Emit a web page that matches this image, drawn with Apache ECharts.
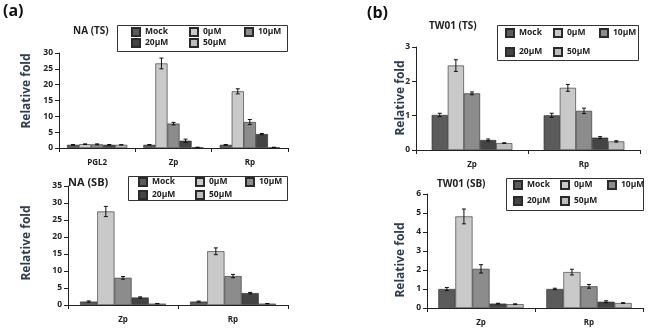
<!DOCTYPE html>
<html>
<head>
<meta charset="utf-8">
<script src="https://cdn.jsdelivr.net/npm/echarts@6/dist/echarts.min.js"></script>
<style>
  html, body { margin: 0; padding: 0; background: #fff; }
  #main { width: 650px; height: 332px; }
</style>
</head>
<body>
<div id="main"></div>
<script>
// 处理组名称
var doseNames = ['Mock', '0μM', '10μM', '20μM', '50μM'];

// (a) NA (TS)
var naTsCats = ['PGL2', 'Zp', 'Rp'];
var naTsMean = [[1.0, 1.0, 1.0], [1.2, 26.7, 17.9], [1.15, 7.7, 8.2], [1.0, 2.3, 4.4], [1.0, 0.2, 0.2]];
var naTsErr  = [[0.1, 0.1, 0.1], [0.1, 1.7, 0.8], [0.15, 0.4, 0.8], [0.1, 0.5, 0.2], [0.05, 0.05, 0.05]];
var naTsTicks = [0, 30, 5];

// (a) NA (SB)
var naSbCats = ['Zp', 'Rp'];
var naSbMean = [[1.0, 1.0], [27.5, 15.8], [8.0, 8.5], [2.2, 3.5], [0.4, 0.4]];
var naSbErr  = [[0.2, 0.15], [1.5, 1.0], [0.4, 0.5], [0.2, 0.2], [0.05, 0.05]];
var naSbTicks = [0, 35, 5];

// (b) TW01 (TS)
var twTsCats = ['Zp', 'Rp'];
var twTsMean = [[1.02, 1.01], [2.46, 1.81], [1.65, 1.14], [0.29, 0.36], [0.2, 0.25]];
var twTsErr  = [[0.05, 0.06], [0.17, 0.1], [0.04, 0.08], [0.03, 0.03], [0.01, 0.02]];
var twTsTicks = [0, 3, 1];

// (b) TW01 (SB)
var twSbCats = ['Zp', 'Rp'];
var twSbMean = [[1.0, 1.0], [4.82, 1.89], [2.06, 1.14], [0.23, 0.33], [0.2, 0.26]];
var twSbErr  = [[0.08, 0.04], [0.39, 0.15], [0.22, 0.1], [0.02, 0.05], [0.02, 0.02]];
var twSbTicks = [0, 6, 1];

// 样式
var barColors = ['#5b5b5b', '#c9c9c9', '#8c8c8c', '#444444', '#bdbdbd'];
var fontFam = 'Open Sans, Liberation Sans, sans-serif';

var panels = [
  {cats: naTsCats, mean: naTsMean, err: naTsErr, ticks: naTsTicks, gap: 0.21,
   grid: {left: 59, top: 53, width: 229, height: 95},
   title: 'NA (TS)', titlePos: [73, 26], titleSize: 10,
   yname: [27, 91],
   leg: {x: [131, 189, 244], y: [27, 38]}, box: [117, 25, 170, 26]},
  {cats: naSbCats, mean: naSbMean, err: naSbErr, ticks: naSbTicks, gap: 0.22,
   grid: {left: 68, top: 186, width: 220, height: 119},
   title: 'NA (SB)', titlePos: [68, 177], titleSize: 11,
   yname: [27, 243],
   leg: {x: [138, 195, 245], y: [177, 190]}, box: [128, 176, 159, 24]},
  {cats: twTsCats, mean: twTsMean, err: twTsErr, ticks: twTsTicks, gap: 0.28,
   grid: {left: 416, top: 47, width: 224, height: 103},
   title: 'TW01 (TS)', titlePos: [429, 21], titleSize: 10,
   yname: [401, 98],
   leg: {x: [505, 553, 599], y: [28, 47]}, box: [497, 25, 141, 35]},
  {cats: twSbCats, mean: twSbMean, err: twSbErr, ticks: twSbTicks, gap: 0.21,
   grid: {left: 427, top: 194, width: 216, height: 114},
   title: 'TW01 (SB)', titlePos: [437, 179], titleSize: 10,
   yname: [401, 260],
   leg: {x: [513, 560, 607], y: [180, 196]}, box: [506, 178, 137, 32]}
];

var grids = [], xAxes = [], yAxes = [], series = [], legends = [], graphics = [];

// 画板标记 (a) (b)
graphics.push({type: 'text', left: 3, top: 3, z: 10,
  style: {text: '(a)', font: 'bold 16px ' + fontFam, fill: '#111'}});
graphics.push({type: 'text', left: 367, top: 5, z: 10,
  style: {text: '(b)', font: 'bold 16px ' + fontFam, fill: '#111'}});

panels.forEach(function (p, pi) {
  grids.push(p.grid);
  xAxes.push({
    type: 'category', gridIndex: pi, data: p.cats,
    axisLine: {lineStyle: {color: '#222', width: 1}},
    axisTick: {show: true, length: 4, lineStyle: {color: '#222'}},
    axisLabel: {color: '#222', fontWeight: 'bold', fontSize: 8, fontFamily: fontFam, margin: 11}
  });
  yAxes.push({
    type: 'value', gridIndex: pi, min: p.ticks[0], max: p.ticks[1], interval: p.ticks[2],
    splitLine: {show: false},
    axisLine: {show: true, lineStyle: {color: '#222', width: 1}},
    axisTick: {show: true, length: 4, lineStyle: {color: '#222'}},
    axisLabel: {color: '#222', fontWeight: 'bold', fontSize: 8.5, fontFamily: fontFam, margin: 6}
  });

  // 柱子
  doseNames.forEach(function (nm, si) {
    series.push({
      name: nm, type: 'bar', xAxisIndex: pi, yAxisIndex: pi,
      data: p.mean[si], barGap: '0%', barCategoryGap: (p.gap * 100) + '%',
      itemStyle: {color: barColors[si], borderColor: '#2a2a2a', borderWidth: 0.6},
      animation: false
    });
  });

  // 误差线
  var errData = [];
  doseNames.forEach(function (nm, si) {
    p.cats.forEach(function (c, ci) {
      errData.push([ci, p.mean[si][ci], p.err[si][ci], si]);
    });
  });
  series.push({
    type: 'custom', xAxisIndex: pi, yAxisIndex: pi, data: errData,
    encode: {x: 0, y: 1}, z: 5, silent: true, animation: false,
    renderItem: (function (gap) {
      return function (params, api) {
        var ci = api.value(0), m = api.value(1), e = api.value(2), si = api.value(3);
        var band = api.size([1, 0])[0];
        var total = band * (1 - gap);
        var bw = total / 5;
        var c0 = api.coord([ci, m]);
        var x = c0[0] - total / 2 + bw * (si + 0.5);
        var yHi = api.coord([ci, m + e])[1];
        var yLo = api.coord([ci, Math.max(m - e, 0)])[1];
        var cap = 2;
        var st = {stroke: '#111', lineWidth: 1};
        return {
          type: 'group',
          children: [
            {type: 'line', shape: {x1: x, y1: yHi, x2: x, y2: yLo}, style: st},
            {type: 'line', shape: {x1: x - cap, y1: yHi, x2: x + cap, y2: yHi}, style: st},
            {type: 'line', shape: {x1: x - cap, y1: yLo, x2: x + cap, y2: yLo}, style: st}
          ]
        };
      };
    })(p.gap)
  });

  // 图例，每项一个，排成两行三列
  doseNames.forEach(function (nm, si) {
    var col = si < 3 ? si : si - 3;
    var row = si < 3 ? 0 : 1;
    legends.push({
      left: p.leg.x[col], top: p.leg.y[row], data: [nm],
      orient: 'horizontal', padding: 0, itemWidth: 8, itemHeight: 8,
      icon: 'rect', selectedMode: false, itemGap: 0, itemTextGap: 3,
      textStyle: {fontSize: 8.5, fontWeight: 'bold', color: '#222', fontFamily: fontFam}
    });
  });
  graphics.push({type: 'rect', z: 1,
    shape: {x: p.box[0] + 0.5, y: p.box[1] + 0.5, width: p.box[2], height: p.box[3]},
    style: {fill: '#fff', stroke: '#333', lineWidth: 1}});

  // 小标题
  graphics.push({type: 'text', x: p.titlePos[0], y: p.titlePos[1], z: 10,
    style: {text: p.title, font: 'bold ' + p.titleSize + 'px ' + fontFam, fill: '#222'}});
  // y轴标题
  graphics.push({type: 'text', x: p.yname[0], y: p.yname[1], rotation: Math.PI / 2, z: 10,
    style: {text: 'Relative fold', font: 'bold 12px ' + fontFam, fill: '#2f3d4c',
      textAlign: 'center', textVerticalAlign: 'middle'}});
});

var myChart = echarts.init(document.getElementById('main'));
var option = {
  backgroundColor: '#fff',
  animation: false,
  grid: grids,
  xAxis: xAxes,
  yAxis: yAxes,
  legend: legends,
  graphic: graphics,
  series: series
};
myChart.setOption(option);
</script>
</body>
</html>
